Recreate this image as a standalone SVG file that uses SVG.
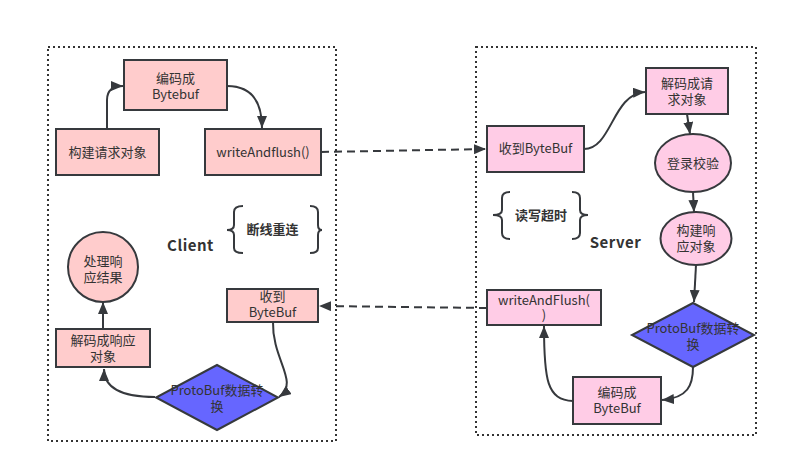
<svg xmlns="http://www.w3.org/2000/svg" width="788" height="475" viewBox="0 0 788 475">
<defs>
<style>
.frame{fill:none;stroke:#333;stroke-width:2;stroke-dasharray:2 3}
.c{fill:#ffcccc;stroke:#36393d;stroke-width:2}
.s{fill:#ffcce6;stroke:#36393d;stroke-width:2}
.d{fill:#6666ff;stroke:#36393d;stroke-width:2}
text{font-family:"Noto Sans CJK SC","Noto Sans",sans-serif;font-size:13px;fill:#333;text-anchor:middle}
.b{font-weight:bold}
.lbl{font-weight:bold;font-size:15px;letter-spacing:0.5px}
.e{fill:none;stroke:#36393d;stroke-width:2}
.da{stroke-dasharray:8 5}
.br{fill:none;stroke:#36393d;stroke-width:2}
</style>
<marker id="ar" viewBox="0 0 12 10" refX="12" refY="5" markerWidth="12" markerHeight="10" markerUnits="userSpaceOnUse" orient="auto">
<path d="M0,0 L12,5 L0,10 z" fill="#36393d"/>
</marker>
</defs>
<rect class="frame" x="48" y="47" width="288" height="394"/>
<rect class="frame" x="476" y="47" width="280" height="388"/>

<g id="edges">
<path class="e" d="M107,129 L107,100 Q107,86 123,86" marker-end="url(#ar)"/>
<path class="e" d="M227,86 C250,86 262,100 262,128" marker-end="url(#ar)"/>
<path class="e da" d="M321,152 L486,149" marker-end="url(#ar)"/>
<path class="e da" d="M487,308 L319,306" marker-end="url(#ar)"/>
<path class="e" d="M273,322 C272,360 300,382 279,397" marker-end="url(#ar)"/>
<path class="e" d="M155,397 C125,397 104,390 104,369" marker-end="url(#ar)"/>
<path class="e" d="M103,329 L103,302" marker-end="url(#ar)"/>
<path class="e" d="M584,149 C612,149 612,94 645,92" marker-end="url(#ar)"/>
<path class="e" d="M687,114 L690,134" marker-end="url(#ar)"/>
<path class="e" d="M693,192 L694,212" marker-end="url(#ar)"/>
<path class="e" d="M696,265 L694,302" marker-end="url(#ar)"/>
<path class="e" d="M693,367 C693,385 688,398 662,400" marker-end="url(#ar)"/>
<path class="e" d="M573,401 C547,400 544,380 544,326" marker-end="url(#ar)"/>
</g>

<g id="client-encode"><rect class="c" x="124" y="60" width="103" height="50"/><text x="175.5" y="82.5">编码成<tspan x="175.5" dy="16">Bytebuf</tspan></text></g>
<g id="client-build"><rect class="c" x="56" y="129" width="103" height="46"/><text x="107.5" y="157">构建请求对象</text></g>
<g id="client-write"><rect class="c" x="205" y="129" width="116" height="46"/><text x="263" y="157">writeAndflush()</text></g>
<g id="client-handle"><circle class="c" cx="103" cy="267" r="35"/><text x="103" y="266">处理响<tspan x="103" dy="16">应结果</tspan></text></g>
<g id="client-decode"><rect class="c" x="56" y="329" width="94" height="38"/><text x="103" y="344.5">解码成响应<tspan x="103" dy="16.5">对象</tspan></text></g>
<g id="client-recv"><rect class="c" x="227" y="289" width="91" height="33"/><text x="272.5" y="301">收到<tspan x="272.5" dy="16">ByteBuf</tspan></text></g>
<g id="client-proto"><polygon class="d" points="217,365 278,397.5 217,430 156,397.5"/><text x="217" y="394.5">ProtoBuf数据转<tspan x="217" dy="16">换</tspan></text></g>
<g id="client-reconnect">
<path class="br" d="M243,206 Q234,206 234,212 L234,225 Q234,230 227,230 Q234,230 234,235 L234,248 Q234,253 243,253"/>
<path class="br" d="M310,206 Q318,206 318,212 L318,225 Q318,230 322,230 Q318,230 318,235 L318,248 Q318,253 310,253"/>
<text class="b" x="272.5" y="233.5">断线重连</text>
</g>
<g id="client-label"><text class="lbl" x="190.5" y="250.5">Client</text></g>

<g id="server-recv"><rect class="s" x="487" y="126" width="97" height="46"/><text x="535.5" y="153">收到ByteBuf</text></g>
<g id="server-decode"><rect class="s" x="646" y="68" width="82" height="46"/><text x="687" y="88">解码成请<tspan x="687" dy="16">求对象</tspan></text></g>
<g id="server-login"><ellipse class="s" cx="693" cy="163" rx="38" ry="29"/><text x="693" y="168">登录校验</text></g>
<g id="server-build"><ellipse class="s" cx="696" cy="238.5" rx="35.5" ry="26.5"/><text x="696" y="235">构建响<tspan x="696" dy="15.5">应对象</tspan></text></g>
<g id="server-proto"><polygon class="d" points="693,303 754,335 693,367 632,335"/><text x="693" y="333">ProtoBuf数据转<tspan x="693" dy="15.5">换</tspan></text></g>
<g id="server-encode"><rect class="s" x="573" y="377" width="88" height="47"/><text x="617" y="397">编码成<tspan x="617" dy="16">ByteBuf</tspan></text></g>
<g id="server-write"><rect class="s" x="487" y="290" width="114" height="35"/><text x="544" y="304.5">writeAndFlush(<tspan x="544" dy="15">)</tspan></text></g>
<g id="server-timeout">
<path class="br" d="M510,192 Q502,192 502,198 L502,210 Q502,215 493,215 Q502,215 502,220 L502,233 Q502,239 510,239"/>
<path class="br" d="M572,192 Q580,192 580,198 L580,210 Q580,215 588,215 Q580,215 580,220 L580,233 Q580,239 572,239"/>
<text class="b" x="541" y="219.5">读写超时</text>
</g>
<g id="server-label"><text class="lbl" x="615.5" y="247.5">Server</text></g>
</svg>
